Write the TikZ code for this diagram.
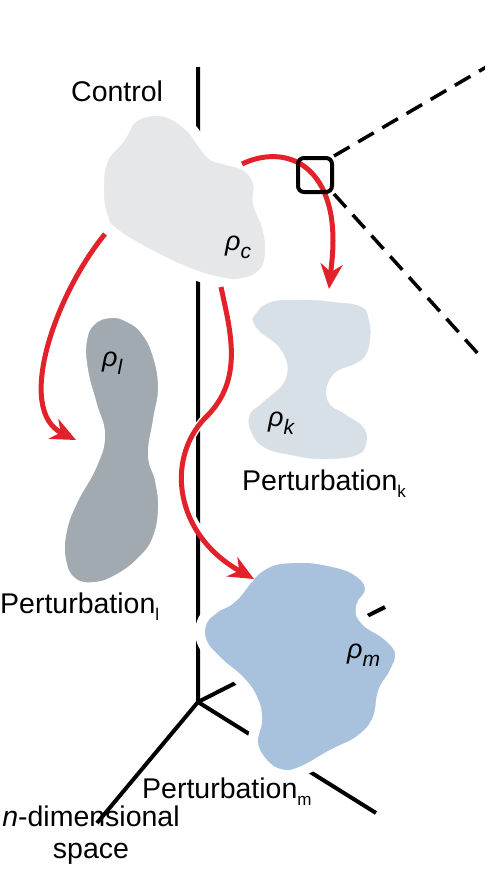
\documentclass[tikz,border=0pt]{standalone}
\usepackage{fontspec}
\setmainfont{Liberation Sans}
\usetikzlibrary{arrows.meta}
\definecolor{arrowred}{HTML}{E2222B}
\definecolor{ctrlgray}{HTML}{E6E7E9}
\definecolor{lgray}{HTML}{A2AAB1}
\definecolor{kblue}{HTML}{D7DFE7}
\definecolor{mblue}{HTML}{A8C1DD}
\newcommand\psub[1]{\raisebox{-7pt}{\fontsize{17}{19}\selectfont #1}}
\newcommand\rsub[1]{\raisebox{-8pt}{\fontsize{21}{24}\selectfont\itshape #1}}
\begin{document}
\begin{tikzpicture}[x=1pt,y=-1pt,
  axis/.style={line width=4pt},
  blob/.style={draw=white,line width=10pt},
  redarrow/.style={draw=arrowred,line width=5pt,-{Stealth[length=25pt,width=22pt,inset=8pt]}},
  dashline/.style={line width=3.5pt,dash pattern=on 18pt off 10pt},
  lbl/.style={font=\fontsize{28.5}{33}\selectfont,inner sep=0pt,anchor=base west},
  rholbl/.style={font=\fontsize{27}{30}\selectfont\itshape,inner sep=0pt,anchor=base west}]
\useasboundingbox (0,0) rectangle (485,895);
% axes
\coordinate (O) at (198,702);
\coordinate (up) at (198,67);
\coordinate (dl) at (97,823);
\coordinate (dr) at (376,813);
\coordinate (ur) at (385,607);
\draw[axis] (up) -- (O) -- (dl);
\draw[axis] (O) -- (dr);
\draw[axis] (O) -- (ur);
% blobs
\filldraw[blob,fill=ctrlgray] plot[smooth cycle,tension=0.75] coordinates {
 (155,111) (173,115) (190,127) (200,140) (212,155) (227,160) (247,167) (258,183)
 (258,203) (267,227) (270,253) (263,273) (243,283) (220,282) (187,272) (147,253)
 (113,232) (103,217) (99,190) (103,160) (120,138) (133,118)};
\filldraw[blob,fill=lgray] plot[smooth cycle,tension=0.75] coordinates {
 (112,313) (130,318) (145,330) (157,353) (163,387) (158,420) (153,455) (160,480)
 (163,510) (157,540) (143,560) (120,578) (95,587) (72,582) (61,560) (62,530)
 (73,500) (92,465) (100,435) (92,405) (83,370) (82,340) (92,320)};
\filldraw[blob,fill=kblue] plot[smooth cycle,tension=0.75] coordinates {
 (250,313) (267,298) (300,295) (335,297) (365,303) (374,320) (375,340) (370,358)
 (358,368) (337,378) (332,398) (348,410) (368,425) (371,445) (358,460) (322,464)
 (290,460) (262,452) (247,435) (245,413) (260,398) (281,377) (277,353) (256,335)
 (248,322)};
\filldraw[blob,fill=mblue] plot[smooth cycle,tension=0.75] coordinates {
 (260,567) (293,558) (333,562) (360,573) (370,590) (361,607) (366,621) (388,636)
 (400,653) (394,673) (383,692) (377,720) (360,740) (333,754) (300,772) (280,774)
 (263,763) (253,743) (257,720) (253,700) (240,681) (217,661) (202,642) (202,622)
 (215,608) (233,597)};
% arrows
\coordinate (a1s) at (242,164);
\coordinate (a1e) at (329,289);
\coordinate (a2s) at (105,234);
\coordinate (a2e) at (76,440);
\coordinate (a3s) at (221,287);
\coordinate (a3e) at (254,579);
\draw[redarrow] (a1s) .. controls (275,148) and (320,155) .. (331,215)
  .. controls (335,240) and (332,260) .. (a1e);
\draw[redarrow] (a2s) .. controls (55,295) and (15,410) .. (a2e);
\draw[redarrow,preaction={draw=white,line width=8pt,-}] (a3s) .. controls (230,330) and (245,380) .. (205,418)
  .. controls (165,460) and (175,535) .. (a3e);
% zoom square and dashed lines
\node[draw,line width=4pt,rounded corners=6pt,minimum size=34pt,inner sep=0pt] (sq) at (315,175) {};
\coordinate (d1) at (488,66);
\coordinate (d2) at (481,357);
\draw[dashline] (sq.north east) -- (d1);
\draw[dashline] (sq.south east) -- (d2);
% labels
\node[lbl] (ctrl) at (71,101) {Control};
\node[lbl] (pk) at (242,490) {Perturbation\psub{k}};
\node[lbl] (pl) at (0,613) {Perturbation\psub{l}};
\node[lbl] (pm) at (142,798) {Perturbation\psub{m}};
\node[font=\fontsize{28.5}{32}\selectfont,inner sep=0pt,anchor=base,align=center] (nd) at (91,858) {\textit{n}-dimensional\\space};
\node[rholbl] (rc) at (225,250) {ρ\rsub{c}};
\node[rholbl] (rl) at (102,366) {ρ\rsub{l}};
\node[rholbl] (rk) at (268,426) {ρ\rsub{k}};
\node[rholbl] (rm) at (347,658) {ρ\rsub{m}};
\end{tikzpicture}
\end{document}
